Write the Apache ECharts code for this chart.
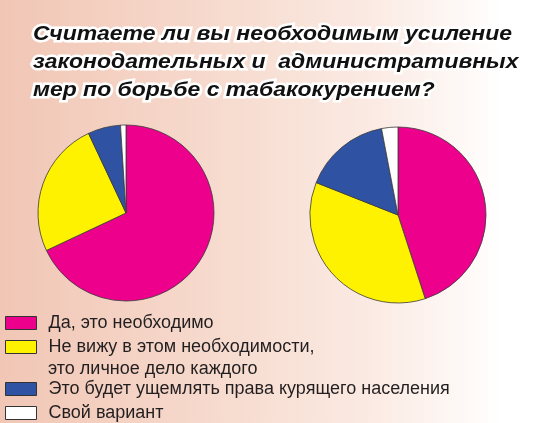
<!DOCTYPE html>
<html>
<head>
<meta charset="utf-8">
<script src="https://cdn.jsdelivr.net/npm/echarts@6/dist/echarts.min.js"></script>
<style>
  html, body { margin: 0; padding: 0; }
  #chart { width: 540px; height: 423px; }
</style>
</head>
<body>
<div id="chart"></div>
<script>
// Survey answers (percent of respondents), two groups
const categories = [
  'Да, это необходимо',
  'Не вижу в этом необходимости,\nэто личное дело каждого',
  'Это будет ущемлять права курящего населения',
  'Свой вариант'
];
const valuesLeft = [68, 25, 6, 1];
const valuesRight = [45, 36, 16, 3];
const colors = ['#EC008C', '#FFF200', '#2F52A3', '#FFFFFF'];
const titleLines = [
  'Считаете ли вы необходимым усиление',
  'законодательных и  административных',
  'мер по борьбе с табакокурением?'
];

const chart = echarts.init(document.getElementById('chart'));

// widen the heading slightly to its set width
const titleFont = 'italic bold 21px "Liberation Sans", Arial, sans-serif';
const mctx = document.createElement('canvas').getContext('2d');
mctx.font = titleFont;
const titleScale = 479 / mctx.measureText(titleLines[0]).width;

const titleGraphics = titleLines.map((line, i) => ({
  type: 'text',
  x: 33,
  y: 34 + i * 28,
  scaleX: titleScale,
  z: 10,
  style: {
    text: line,
    font: titleFont,
    fill: '#111111',
    stroke: '#ffffff',
    lineWidth: 5,
    strokeFirst: true,
    verticalAlign: 'middle'
  }
}));

const firstLine = name => name.split('\n')[0];
const legendCenters = [323, 347, 389, 413];
const legends = categories.map((name, i) => ({
  data: [name],
  orient: 'vertical',
  left: 5,
  top: legendCenters[i] - 10,
  padding: 0,
  icon: 'rect',
  itemWidth: 31,
  itemHeight: 13,
  itemGap: 0,
  selectedMode: false,
  formatter: firstLine,
  itemStyle: { borderColor: '#333333', borderWidth: 1 },
  textStyle: {
    fontFamily: '"Liberation Sans", Arial, sans-serif',
    fontSize: 18,
    lineHeight: 20,
    color: '#231F20',
    padding: [0, 0, 0, 7]
  }
}));

// continuation line of the second legend entry
const legendExtra = categories
  .filter(n => n.includes('\n'))
  .map(n => ({
    type: 'text',
    left: 48,
    top: 360,
    style: {
      text: n.split('\n')[1],
      font: '18px "Liberation Sans", Arial, sans-serif',
      fill: '#231F20'
    }
  }));

const pieBase = {
  type: 'pie',
  radius: 88,
  startAngle: 90,
  clockwise: true,
  label: { show: false },
  labelLine: { show: false },
  emphasis: { disabled: true },
  animation: false,
  itemStyle: { borderColor: '#3a3a3a', borderWidth: 0.8 }
};

const toData = vals => vals.map((v, i) => ({
  name: categories[i],
  value: v,
  itemStyle: { color: colors[i] }
}));

chart.setOption({
  backgroundColor: {
    type: 'linear', x: 0, y: 0, x2: 1, y2: 0,
    colorStops: [
      { offset: 0, color: '#F1C6B5' },
      { offset: 0.45, color: '#F7DDD1' },
      { offset: 0.7, color: '#FBEBE4' },
      { offset: 0.93, color: '#FFFFFF' },
      { offset: 1, color: '#FFFFFF' }
    ]
  },
  animation: false,
  legend: legends,
  graphic: titleGraphics.concat(legendExtra),
  series: [
    Object.assign({}, pieBase, { name: 'left', center: [126, 213], data: toData(valuesLeft) }),
    Object.assign({}, pieBase, { name: 'right', center: [398, 215], data: toData(valuesRight) })
  ]
});
</script>
</body>
</html>
